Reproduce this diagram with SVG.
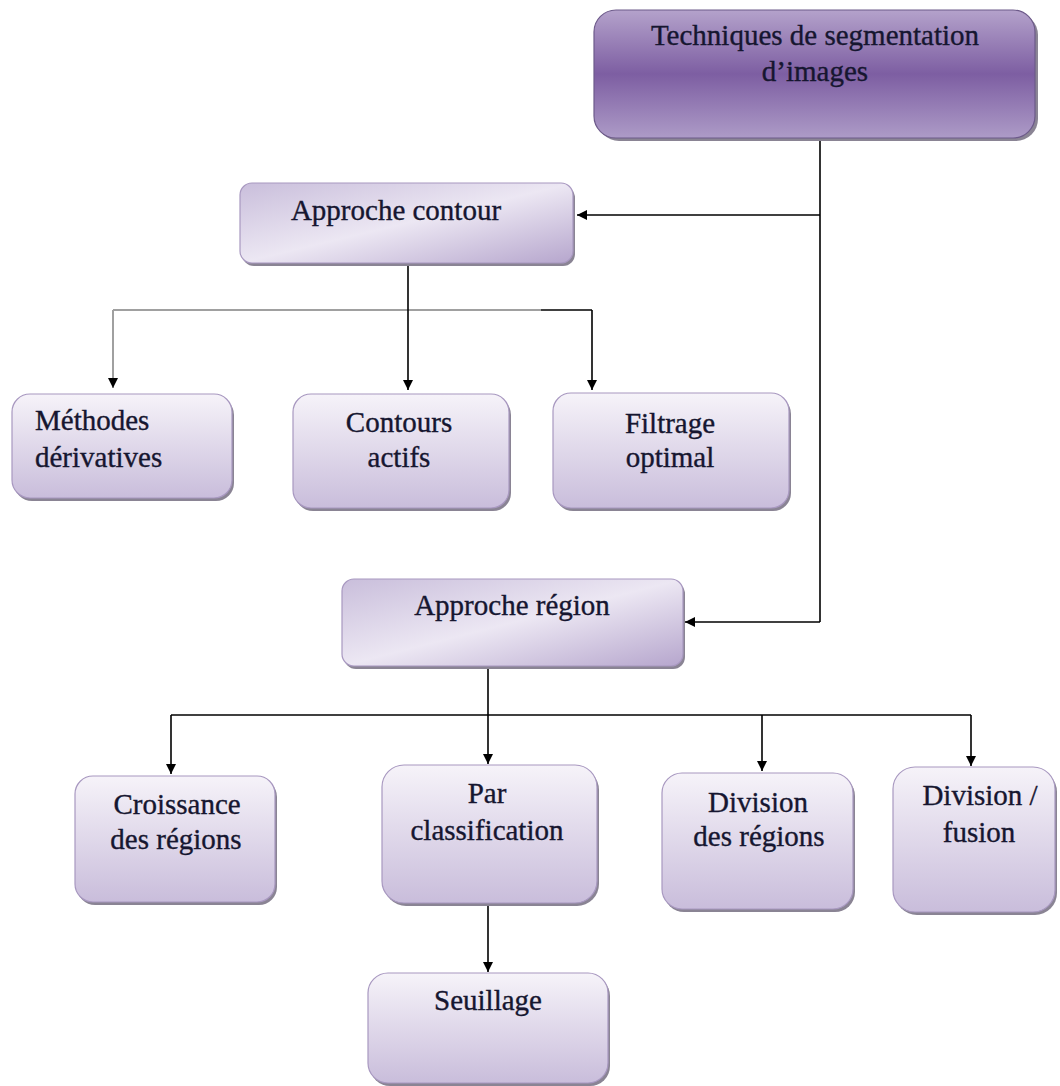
<svg xmlns="http://www.w3.org/2000/svg" width="1060" height="1086" viewBox="0 0 1060 1086">
<defs>
<linearGradient id="gTop" x1="0" y1="0" x2="0" y2="1">
<stop offset="0" stop-color="#b4a2cb"/>
<stop offset="0.5" stop-color="#7d5ea2"/>
<stop offset="1" stop-color="#ad9bc7"/>
</linearGradient>
<linearGradient id="gApp" x1="0" y1="0" x2="1" y2="1">
<stop offset="0" stop-color="#c9bedb"/>
<stop offset="0.5" stop-color="#ece7f3"/>
<stop offset="1" stop-color="#b6a6cd"/>
</linearGradient>
<linearGradient id="gLeaf" x1="0" y1="0" x2="0" y2="1">
<stop offset="0" stop-color="#f6f3f9"/>
<stop offset="1" stop-color="#c9bddb"/>
</linearGradient>
<marker id="arr" viewBox="0 0 10 10" refX="10" refY="5" markerWidth="10" markerHeight="10" markerUnits="userSpaceOnUse" orient="auto">
<path d="M0,0 L10,5 L0,10 z" fill="#000"/>
</marker>
<marker id="arrg" viewBox="0 0 10 10" refX="10" refY="5" markerWidth="10" markerHeight="10" markerUnits="userSpaceOnUse" orient="auto">
<path d="M0,0 L10,5 L0,10 z" fill="#000"/>
</marker>
<style>
.t{font-family:"Liberation Serif","Times New Roman",serif;font-size:29px;fill:#161630;stroke:#161630;stroke-width:0.35;text-anchor:middle}
.tl{text-anchor:start}
.sh{fill:#8a8494}
.top{fill:url(#gTop);stroke:#6d5a8a;stroke-width:1.2}
.app{fill:url(#gApp);stroke:#a898c0;stroke-width:1.2}
.leaf{fill:url(#gLeaf);stroke:#a898c0;stroke-width:1.2}
.c{fill:none;stroke:#000;stroke-width:1.6}
.g{fill:none;stroke:#a0a0a0;stroke-width:2}
</style>
</defs>
<rect width="1060" height="1086" fill="#fff"/>

<g id="connectors">
<path class="c" d="M820,138 V622"/>
<path class="c" d="M820,215 H577" marker-end="url(#arr)"/>
<path class="c" d="M820,622 H685" marker-end="url(#arr)"/>
<path class="g" d="M113,310 H541"/>
<path class="c" d="M541,310 H592"/>
<path class="g" d="M113,310 V388" marker-end="url(#arrg)"/>
<path class="c" d="M408,264 V390" marker-end="url(#arr)"/>
<path class="c" d="M592,310 V390" marker-end="url(#arr)"/>
<path class="c" d="M488,667 V764" marker-end="url(#arr)"/>
<path class="c" d="M171,715 H971"/>
<path class="c" d="M171,715 V774" marker-end="url(#arr)"/>
<path class="c" d="M762,715 V771" marker-end="url(#arr)"/>
<path class="c" d="M971,715 V766" marker-end="url(#arr)"/>
<path class="c" d="M488,903 V972" marker-end="url(#arr)"/>
</g>

<g id="n-top">
<rect class="sh" x="597" y="13" width="441" height="128" rx="22"/>
<rect class="top" x="594" y="10" width="441" height="128" rx="22"/>
<text class="t" x="815" y="45">Techniques de segmentation</text>
<text class="t" x="815" y="81">d’images</text>
</g>

<g id="n-contour">
<rect class="sh" x="242" y="186" width="333" height="80" rx="12"/>
<rect class="app" x="240" y="183" width="333" height="80" rx="12"/>
<text class="t" x="396" y="220">Approche contour</text>
</g>

<g id="n-methodes">
<rect class="sh" x="14" y="397" width="220" height="104" rx="18"/>
<rect class="leaf" x="12" y="394" width="220" height="104" rx="18"/>
<text class="t tl" x="35" y="430">Méthodes</text>
<text class="t tl" x="35" y="467">dérivatives</text>
</g>

<g id="n-contours-actifs">
<rect class="sh" x="295" y="397" width="216" height="114" rx="18"/>
<rect class="leaf" x="293" y="394" width="216" height="114" rx="18"/>
<text class="t" x="399" y="432">Contours</text>
<text class="t" x="399" y="467">actifs</text>
</g>

<g id="n-filtrage">
<rect class="sh" x="555" y="396" width="236" height="115" rx="18"/>
<rect class="leaf" x="553" y="393" width="236" height="115" rx="18"/>
<text class="t" x="670" y="433">Filtrage</text>
<text class="t" x="670" y="467">optimal</text>
</g>

<g id="n-region">
<rect class="sh" x="344" y="582" width="341" height="87" rx="12"/>
<rect class="app" x="342" y="579" width="341" height="87" rx="12"/>
<text class="t" x="512" y="615">Approche région</text>
</g>

<g id="n-croissance">
<rect class="sh" x="77" y="779" width="200" height="126" rx="18"/>
<rect class="leaf" x="75" y="776" width="200" height="126" rx="18"/>
<text class="t" x="177" y="814">Croissance</text>
<text class="t" x="176" y="849">des régions</text>
</g>

<g id="n-classification">
<rect class="sh" x="384" y="768" width="215" height="138" rx="22"/>
<rect class="leaf" x="382" y="765" width="215" height="138" rx="22"/>
<text class="t" x="487" y="803">Par</text>
<text class="t" x="487" y="840">classification</text>
</g>

<g id="n-division">
<rect class="sh" x="664" y="776" width="191" height="136" rx="20"/>
<rect class="leaf" x="662" y="773" width="191" height="136" rx="20"/>
<text class="t" x="758" y="812">Division</text>
<text class="t" x="759" y="846">des régions</text>
</g>

<g id="n-fusion">
<rect class="sh" x="895" y="770" width="162" height="145" rx="22"/>
<rect class="leaf" x="893" y="767" width="162" height="145" rx="22"/>
<text class="t" x="980" y="805">Division /</text>
<text class="t" x="979" y="842">fusion</text>
</g>

<g id="n-seuillage">
<rect class="sh" x="370" y="976" width="240" height="110" rx="20"/>
<rect class="leaf" x="368" y="973" width="240" height="110" rx="20"/>
<text class="t" x="488" y="1010">Seuillage</text>
</g>
</svg>
